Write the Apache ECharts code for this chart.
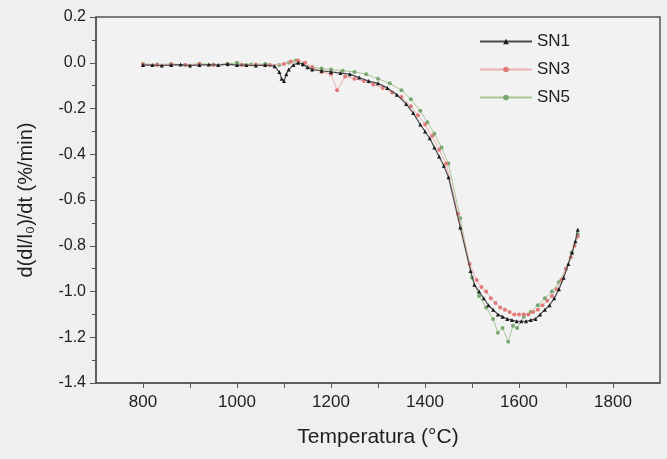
<!DOCTYPE html>
<html>
<head>
<meta charset="utf-8">
<script src="https://cdn.jsdelivr.net/npm/echarts@6/dist/echarts.min.js"></script>
<style>
  html, body { margin: 0; padding: 0; background: #efefef; }
  #main { width: 667px; height: 459px; }
</style>
</head>
<body>
<div id="main"></div>
<script>
// temperaturas (°C) y valores d(dl/l0)/dt (%/min)
var tSN1 = [800, 820, 840, 860, 880, 900, 920, 940, 960, 980, 1000, 1020, 1040, 1060, 1080, 1090, 1095, 1100, 1105, 1110, 1120, 1130, 1140, 1150, 1160, 1180, 1200, 1220, 1240, 1260, 1280, 1300, 1320, 1340, 1360, 1375, 1390, 1400, 1410, 1420, 1430, 1440, 1450, 1475, 1497, 1505, 1515, 1525, 1535, 1545, 1555, 1565, 1575, 1585, 1595, 1605, 1615, 1625, 1635, 1645, 1655, 1665, 1675, 1685, 1695, 1705, 1713, 1720, 1725];
var vSN1 = [-0.01, -0.01, -0.012, -0.01, -0.008, -0.012, -0.01, -0.008, -0.01, -0.006, -0.01, -0.01, -0.012, -0.01, -0.015, -0.04, -0.07, -0.08, -0.05, -0.03, -0.01, 0.0, -0.005, -0.02, -0.03, -0.035, -0.04, -0.045, -0.05, -0.065, -0.08, -0.09, -0.11, -0.14, -0.18, -0.22, -0.27, -0.30, -0.33, -0.37, -0.41, -0.45, -0.50, -0.72, -0.91, -0.97, -1.0, -1.03, -1.06, -1.08, -1.10, -1.11, -1.12, -1.125, -1.13, -1.13, -1.13, -1.125, -1.12, -1.10, -1.08, -1.06, -1.03, -0.99, -0.94, -0.88, -0.83, -0.78, -0.73];

var tSN3 = [800, 830, 860, 890, 920, 950, 980, 1010, 1040, 1070, 1100, 1115, 1130, 1145, 1160, 1180, 1200, 1213, 1230, 1250, 1270, 1290, 1310, 1330, 1350, 1370, 1385, 1400, 1415, 1430, 1445, 1470, 1495, 1510, 1520, 1530, 1540, 1550, 1560, 1570, 1580, 1590, 1600, 1610, 1620, 1630, 1640, 1650, 1660, 1670, 1680, 1690, 1700, 1710, 1718, 1725];
var vSN3 = [-0.008, -0.01, -0.008, -0.01, -0.006, -0.01, -0.008, -0.01, -0.008, -0.01, -0.005, 0.005, 0.01, 0.0, -0.02, -0.04, -0.05, -0.12, -0.06, -0.07, -0.08, -0.095, -0.11, -0.13, -0.15, -0.19, -0.23, -0.27, -0.32, -0.38, -0.44, -0.66, -0.88, -0.95, -0.98, -1.00, -1.03, -1.05, -1.07, -1.08, -1.09, -1.10, -1.10, -1.10, -1.10, -1.09, -1.08, -1.06, -1.04, -1.02, -0.99, -0.95, -0.90, -0.85, -0.80, -0.76];

var tSN5 = [800, 830, 860, 890, 920, 950, 980, 1000, 1030, 1060, 1090, 1110, 1125, 1140, 1160, 1180, 1200, 1225, 1250, 1275, 1300, 1325, 1350, 1370, 1390, 1405, 1420, 1435, 1450, 1475, 1500, 1515, 1530, 1545, 1555, 1565, 1577, 1587, 1596, 1610, 1625, 1640, 1655, 1670, 1685, 1700, 1712, 1725];
var vSN5 = [-0.005, -0.008, -0.005, -0.01, -0.004, -0.008, -0.005, 0.0, -0.008, -0.005, -0.01, 0.0, 0.01, -0.01, -0.02, -0.025, -0.03, -0.035, -0.04, -0.05, -0.07, -0.09, -0.12, -0.16, -0.21, -0.26, -0.31, -0.37, -0.44, -0.68, -0.94, -1.02, -1.07, -1.12, -1.18, -1.16, -1.22, -1.15, -1.16, -1.11, -1.09, -1.06, -1.03, -1.0, -0.96, -0.90, -0.83, -0.75];

function pares(t, v) {
  return t.map(function (x, i) { return [x, v[i]]; });
}

var myChart = echarts.init(document.getElementById('main'));
var ejeColor = '#555';
var textoColor = '#1e1e1e';
var fuente = 'Liberation Sans';

myChart.setOption({
  backgroundColor: '#efefef',
  animation: false,
  grid: {
    left: 96, right: 7, top: 17, bottom: 76,
    show: true, borderColor: ejeColor, borderWidth: 1.5, backgroundColor: '#f2f2f2'
  },
  legend: {
    orient: 'vertical',
    left: 474, top: 28,
    itemWidth: 52, itemHeight: 7, itemGap: 11,
    textStyle: { fontFamily: fuente, fontSize: 17, color: textoColor },
    data: ['SN1', 'SN3', 'SN5']
  },
  xAxis: {
    type: 'value',
    min: 700, max: 1900, interval: 100,
    name: 'Temperatura (°C)',
    nameLocation: 'middle', nameGap: 44,
    nameTextStyle: { fontFamily: fuente, fontSize: 21, color: textoColor },
    axisLine: { show: true, onZero: false, lineStyle: { color: ejeColor, width: 1.5 } },
    axisTick: { show: true, length: 5, lineStyle: { color: ejeColor } },
    splitLine: { show: false },
    axisLabel: {
      fontFamily: fuente, fontSize: 17, color: textoColor, margin: 11,
      showMinLabel: false, showMaxLabel: false,
      formatter: function (v) { return v % 200 === 0 ? String(v) : ''; }
    }
  },
  yAxis: {
    type: 'value',
    min: -1.4, max: 0.2, interval: 0.2,
    name: 'd(dl/l₀)/dt (%/min)',
    nameLocation: 'middle', nameGap: 60,
    nameTextStyle: { fontFamily: fuente, fontSize: 20, color: textoColor },
    axisLine: { show: true, onZero: false, lineStyle: { color: ejeColor, width: 1.5 } },
    axisTick: { show: true, length: 6, lineStyle: { color: ejeColor } },
    minorTick: { show: true, splitNumber: 2, length: 4, lineStyle: { color: ejeColor } },
    splitLine: { show: false },
    axisLabel: {
      fontFamily: fuente, fontSize: 16, color: textoColor, margin: 10,
      formatter: function (v) { return v.toFixed(1); }
    }
  },
  series: [
    {
      name: 'SN1', type: 'line', data: pares(tSN1, vSN1),
      symbol: 'triangle', symbolSize: 4,
      lineStyle: { color: '#4a4a4a', width: 1.2 },
      itemStyle: { color: '#1a1a1a' }, z: 3
    },
    {
      name: 'SN3', type: 'line', data: pares(tSN3, vSN3),
      symbol: 'circle', symbolSize: 4,
      lineStyle: { color: '#eeb0b0', width: 1 },
      itemStyle: { color: '#e07a7a' }, z: 2
    },
    {
      name: 'SN5', type: 'line', data: pares(tSN5, vSN5),
      symbol: 'circle', symbolSize: 4,
      lineStyle: { color: '#a9c79a', width: 1 },
      itemStyle: { color: '#7aa872' }, z: 1
    }
  ]
});
</script>
</body>
</html>
